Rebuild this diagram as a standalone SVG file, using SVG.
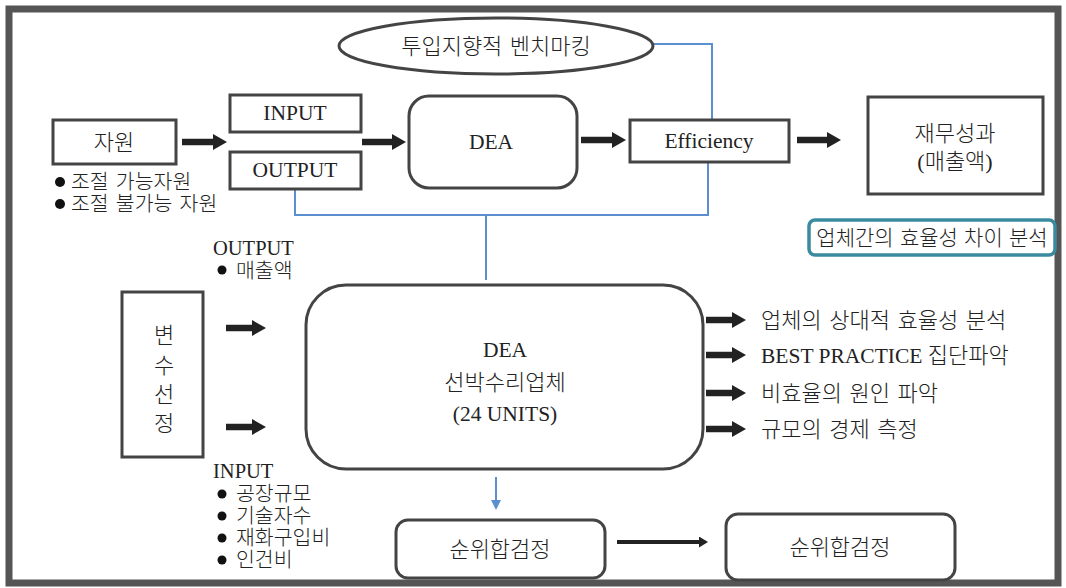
<svg xmlns="http://www.w3.org/2000/svg" width="1066" height="588" viewBox="0 0 1066 588">
<style>
.box{fill:#fff;stroke:#444;stroke-width:3}
.t{font-family:"Liberation Serif","Noto Sans CJK KR",serif;font-size:21.5px;fill:#222}
.k{font-size:22px;font-weight:300;word-spacing:2px}
.s{font-size:20.5px}
.lb{font-size:20.5px}
.c{text-anchor:middle}
.blue{fill:none;stroke:#5b8fd0;stroke-width:2}
.fat{stroke:#222;stroke-width:6.5;fill:none}
.thin{stroke:#222;stroke-width:4;fill:none}
.dot{fill:#111}
</style>
<defs>
<marker id="h" markerUnits="userSpaceOnUse" markerWidth="14" markerHeight="16" viewBox="0 0 14 16" refX="0" refY="8" orient="auto"><path d="M0,0 L14,8 L0,16 z" fill="#222"/></marker>
<marker id="hs" markerUnits="userSpaceOnUse" markerWidth="9" markerHeight="11" viewBox="0 0 9 11" refX="0" refY="5.5" orient="auto"><path d="M0,0 L9,5.5 L0,11 z" fill="#222"/></marker>
<marker id="hb" markerUnits="userSpaceOnUse" markerWidth="10" markerHeight="10" viewBox="0 0 10 10" refX="0" refY="5" orient="auto"><path d="M0,0 L10,5 L0,10 z" fill="#5b8fd0"/></marker>
</defs>
<rect x="0" y="0" width="1066" height="588" fill="#fff"/>
<rect x="9" y="9" width="1049" height="574" fill="#fff" stroke="#555" stroke-width="7"/>

<g id="connectors">
<polyline class="blue" points="652,44 712,44 712,120"/>
<polyline class="blue" points="708,162 708,215 295,215 295,190"/>
<line class="blue" x1="486" y1="215" x2="486" y2="280"/>
<line class="blue" x1="496" y1="477" x2="496" y2="500" marker-end="url(#hb)"/>
<line class="fat" x1="182" y1="142" x2="213" y2="142" marker-end="url(#h)"/>
<line class="fat" x1="362" y1="142" x2="392" y2="142" marker-end="url(#h)"/>
<line class="fat" x1="581" y1="140" x2="612" y2="140" marker-end="url(#h)"/>
<line class="fat" x1="797" y1="140" x2="827" y2="140" marker-end="url(#h)"/>
<line class="fat" x1="226" y1="328" x2="252" y2="328" marker-end="url(#h)"/>
<line class="fat" x1="226" y1="427" x2="252" y2="427" marker-end="url(#h)"/>
<line class="fat" x1="706" y1="320" x2="732" y2="320" marker-end="url(#h)"/>
<line class="fat" x1="706" y1="355" x2="732" y2="355" marker-end="url(#h)"/>
<line class="fat" x1="706" y1="393" x2="732" y2="393" marker-end="url(#h)"/>
<line class="fat" x1="706" y1="429" x2="732" y2="429" marker-end="url(#h)"/>
<line class="thin" x1="617" y1="542" x2="699" y2="542" marker-end="url(#hs)"/>
</g>

<g id="benchmark">
<ellipse cx="496" cy="46" rx="157" ry="28" fill="#fff" stroke="#444" stroke-width="3"/>
<text class="t k c" x="496" y="54">투입지향적 벤치마킹</text>
</g>
<g id="resource">
<rect class="box" x="53" y="120" width="123" height="44"/>
<text class="t k c" x="114" y="150">자원</text>
<circle class="dot" cx="60" cy="182" r="5"/>
<text class="t k s" x="71" y="189">조절 가능자원</text>
<circle class="dot" cx="60" cy="204" r="5"/>
<text class="t k s" x="71" y="211">조절 불가능 자원</text>
</g>
<g id="input">
<rect class="box" x="230" y="95" width="131" height="37"/>
<text class="t c" x="295" y="120">INPUT</text>
</g>
<g id="output">
<rect class="box" x="230" y="152" width="131" height="37"/>
<text class="t c" x="295" y="177">OUTPUT</text>
</g>
<g id="dea-top">
<rect class="box" x="409" y="96" width="168" height="92" rx="20"/>
<text class="t c" x="491" y="149">DEA</text>
</g>
<g id="efficiency">
<rect class="box" x="630" y="120" width="159" height="42"/>
<text class="t c" x="709" y="148">Efficiency</text>
</g>
<g id="finance">
<rect class="box" x="868" y="97" width="175" height="97"/>
<text class="t k c" x="955" y="141">재무성과</text>
<text class="t k c" x="955" y="169">(매출액)</text>
</g>
<g id="gap">
<rect x="809" y="220" width="246" height="35" rx="6" fill="#fff" stroke="#3a8aa0" stroke-width="3.5"/>
<text class="t k c" x="932" y="245" style="font-size:21px;word-spacing:1px">업체간의 효율성 차이 분석</text>
</g>
<g id="variables">
<rect class="box" x="122" y="292" width="81" height="165"/>
<text class="t k c" x="164" y="343">변</text>
<text class="t k c" x="164" y="373">수</text>
<text class="t k c" x="164" y="402">선</text>
<text class="t k c" x="164" y="431">정</text>
</g>
<g id="out-vars">
<text class="t lb" x="213" y="255">OUTPUT</text>
<circle class="dot" cx="222" cy="270" r="4.5"/>
<text class="t k s" x="236" y="278">매출액</text>
</g>
<g id="in-vars">
<text class="t lb" x="213" y="478">INPUT</text>
<circle class="dot" cx="222" cy="494" r="4.5"/>
<text class="t k s" x="236" y="501">공장규모</text>
<circle class="dot" cx="222" cy="516" r="4.5"/>
<text class="t k s" x="236" y="523">기술자수</text>
<circle class="dot" cx="222" cy="538" r="4.5"/>
<text class="t k s" x="236" y="545">재화구입비</text>
<circle class="dot" cx="222" cy="560" r="4.5"/>
<text class="t k s" x="236" y="567">인건비</text>
</g>
<g id="dea-main">
<rect class="box" x="306" y="285" width="397" height="184" rx="40"/>
<text class="t c" x="505" y="357">DEA</text>
<text class="t k c" x="505" y="390">선박수리업체</text>
<text class="t c" x="505" y="421">(24 UNITS)</text>
</g>
<g id="results">
<text class="t k" x="761" y="328">업체의 상대적 효율성 분석</text>
<text class="t" x="761" y="363">BEST PRACTICE <tspan class="k">집단파악</tspan></text>
<text class="t k" x="761" y="401">비효율의 원인 파악</text>
<text class="t k" x="761" y="437">규모의 경제 측정</text>
</g>
<g id="rank1">
<rect class="box" x="396" y="520" width="209" height="58" rx="12"/>
<text class="t k c" x="500" y="557">순위합검정</text>
</g>
<g id="rank2">
<rect class="box" x="726" y="514" width="229" height="66" rx="12"/>
<text class="t k c" x="840" y="555">순위합검정</text>
</g>
</svg>
